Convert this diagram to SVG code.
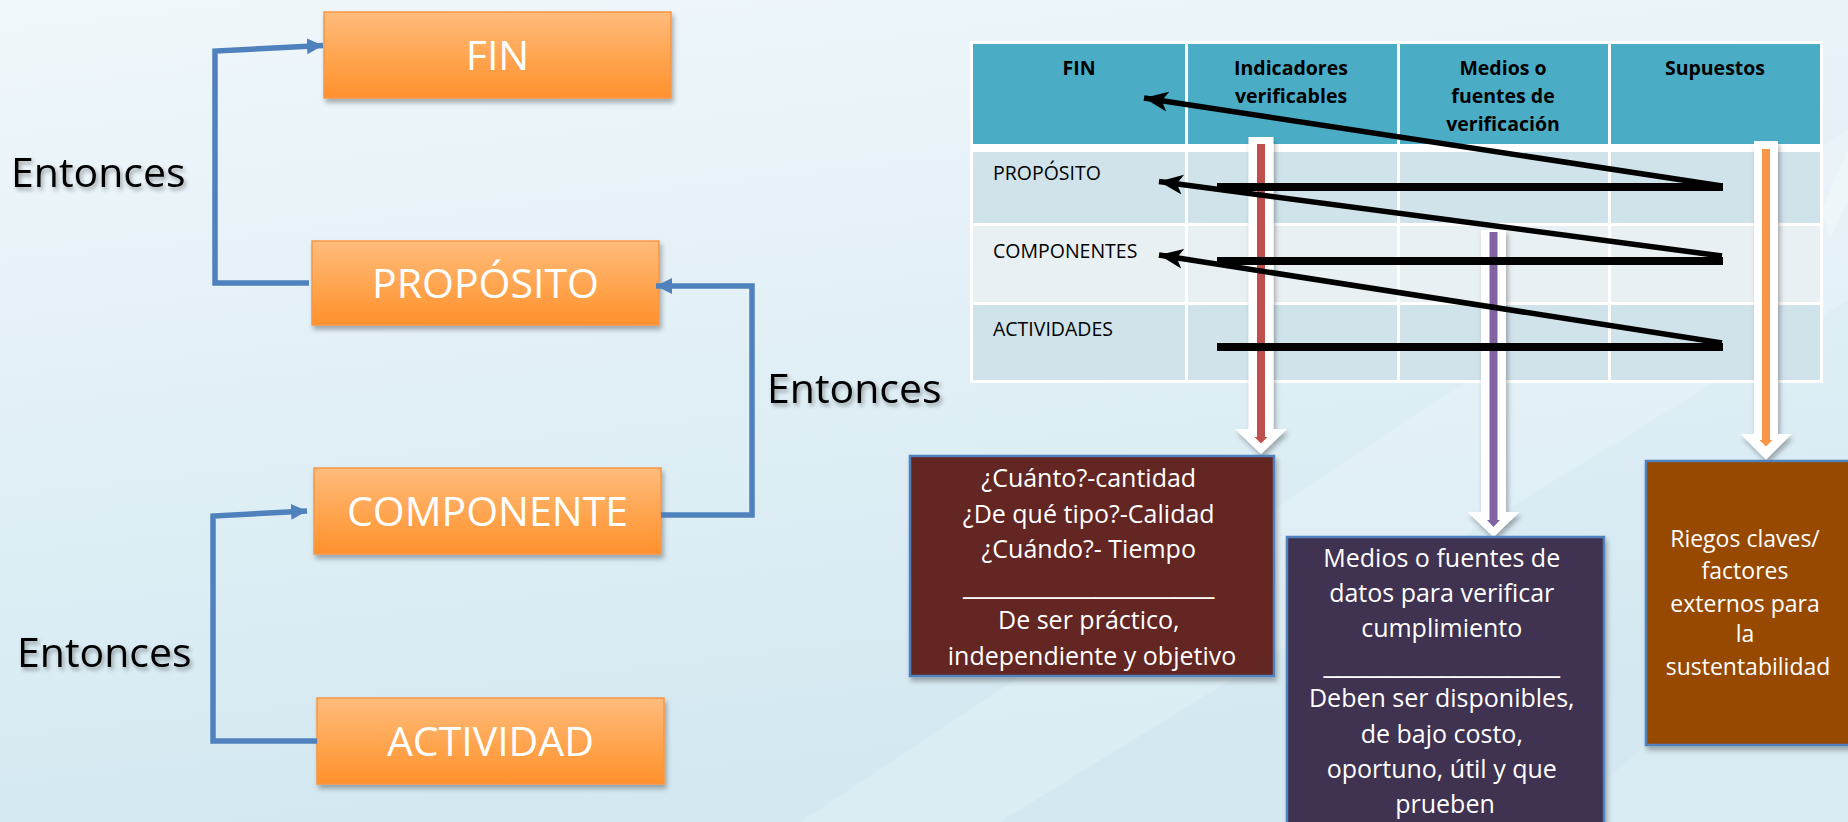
<svg xmlns="http://www.w3.org/2000/svg" width="1848" height="822" viewBox="0 0 1848 822">
<defs>
  <linearGradient id="bg" x1="0" y1="0" x2="0.25" y2="1">
    <stop offset="0" stop-color="#F0F7FB"/>
    <stop offset="1" stop-color="#D3E8F1"/>
  </linearGradient>
  <linearGradient id="og" x1="0" y1="0" x2="0" y2="1">
    <stop offset="0" stop-color="#FFBC7C"/>
    <stop offset="0.6" stop-color="#FFA24A"/>
    <stop offset="1" stop-color="#FF912C"/>
  </linearGradient>
  <filter id="sh" x="-10%" y="-10%" width="130%" height="140%">
    <feDropShadow dx="2" dy="4" stdDeviation="2.5" flood-color="#000" flood-opacity="0.3"/>
  </filter>
  <filter id="tsh" x="-10%" y="-10%" width="130%" height="140%">
    <feDropShadow dx="2" dy="3" stdDeviation="2" flood-color="#000" flood-opacity="0.35"/>
  </filter>
  <marker id="blueArrow" markerUnits="userSpaceOnUse" markerWidth="18" markerHeight="18" viewBox="0 0 18 18" refX="16" refY="9" orient="auto">
    <path d="M0,1 L16,9 L0,17 Z" fill="#4F81BD"/>
  </marker>
  <marker id="blackArrow" markerUnits="userSpaceOnUse" markerWidth="26" markerHeight="22" viewBox="0 0 26 22" refX="24" refY="11" orient="auto">
    <path d="M0,1 L24,11 L0,21 L6,11 Z" fill="#000"/>
  </marker>
  <style>
    .node rect { fill: url(#og); stroke: #F79646; stroke-width: 1.5; filter: url(#sh); }
    .node text { fill: #FFFFFF; font-family: "Open Sans", "Liberation Sans", sans-serif; font-size: 41px; text-anchor: middle; }
    .lbl { fill: #000; font-family: "Open Sans", "Liberation Sans", sans-serif; font-size: 41px; filter: url(#tsh); }
    .blue { fill: none; stroke: #4F81BD; stroke-width: 5.5; stroke-linejoin: miter; }
    .hdr { fill: #4BACC6; }
    .r1 { fill: #D0E3EA; }
    .r2 { fill: #E9F0F3; }
    .ht { fill: #000; font-family: "Open Sans", "Liberation Sans", sans-serif; font-weight: bold; font-size: 19.5px; text-anchor: middle; }
    .rt { fill: #000; font-family: "Open Sans", "Liberation Sans", sans-serif; font-size: 19.5px; }
    .bar { stroke: #000; stroke-width: 8; fill: none; }
    .slant { stroke: #000; stroke-width: 5.5; fill: none; }
    .box rect { stroke: #4F81BD; stroke-width: 2.5; filter: url(#sh); }
    .box text { fill: #FFFFFF; font-family: "Open Sans", "Liberation Sans", sans-serif; text-anchor: middle; }
    .box .us { font-family: "Liberation Sans", sans-serif; }
    .outer { fill: #FFFFFF; filter: url(#sh); }
  </style>
</defs>

<rect x="0" y="0" width="1848" height="822" fill="url(#bg)"/>
<polygon points="800,822 1848,130 1848,300 1000,822" fill="#FFFFFF" opacity="0.18"/>
<polygon points="1560,822 1848,560 1848,822" fill="#FFFFFF" opacity="0.12"/>
<polygon points="1822,210 1848,150 1848,200 1830,240" fill="#FFFFFF" opacity="0.3"/>

<!-- Left flow nodes -->
<g id="node-fin" class="node">
  <rect x="324" y="12" width="347" height="86"/>
  <text x="497.5" y="70">FIN</text>
</g>
<g id="node-proposito" class="node">
  <rect x="312" y="241" width="347" height="84"/>
  <text x="485.5" y="298">PROPÓSITO</text>
</g>
<g id="node-componente" class="node">
  <rect x="314" y="468" width="347" height="86"/>
  <text x="487.5" y="526">COMPONENTE</text>
</g>
<g id="node-actividad" class="node">
  <rect x="317" y="698" width="347" height="86"/>
  <text x="490.5" y="756">ACTIVIDAD</text>
</g>

<g id="connectors">
  <path class="blue" d="M309,283 L215,283 L215,51 L323,45.5" marker-end="url(#blueArrow)"/>
  <path class="blue" d="M317,741 L213,741 L213,516 L307,511" marker-end="url(#blueArrow)"/>
  <path class="blue" d="M661,515 L752,515 L752,286 L656,286" marker-end="url(#blueArrow)"/>
</g>

<g id="labels">
  <text class="lbl" x="11" y="187">Entonces</text>
  <text class="lbl" x="767" y="403">Entonces</text>
  <text class="lbl" x="17" y="667">Entonces</text>
</g>

<!-- Table -->
<g id="table">
  <rect x="970" y="41" width="853" height="342" fill="#FFFFFF"/>
  <rect class="hdr" x="973" y="44" width="212" height="100"/>
  <rect class="hdr" x="1188" y="44" width="209" height="100"/>
  <rect class="hdr" x="1400" y="44" width="208" height="100"/>
  <rect class="hdr" x="1611" y="44" width="209" height="100"/>

  <rect class="r1" x="973" y="152" width="212" height="71"/>
  <rect class="r1" x="1188" y="152" width="209" height="71"/>
  <rect class="r1" x="1400" y="152" width="208" height="71"/>
  <rect class="r1" x="1611" y="152" width="209" height="71"/>

  <rect class="r2" x="973" y="226" width="212" height="76"/>
  <rect class="r2" x="1188" y="226" width="209" height="76"/>
  <rect class="r2" x="1400" y="226" width="208" height="76"/>
  <rect class="r2" x="1611" y="226" width="209" height="76"/>

  <rect class="r1" x="973" y="305" width="212" height="75"/>
  <rect class="r1" x="1188" y="305" width="209" height="75"/>
  <rect class="r1" x="1400" y="305" width="208" height="75"/>
  <rect class="r1" x="1611" y="305" width="209" height="75"/>

  <text class="ht" x="1079" y="75">FIN</text>
  <text class="ht" x="1291" y="75">Indicadores</text>
  <text class="ht" x="1291" y="103">verificables</text>
  <text class="ht" x="1503" y="75">Medios o</text>
  <text class="ht" x="1503" y="103">fuentes de</text>
  <text class="ht" x="1503" y="131">verificación</text>
  <text class="ht" x="1715" y="75">Supuestos</text>

  <text class="rt" x="993" y="180">PROPÓSITO</text>
  <text class="rt" x="993" y="258">COMPONENTES</text>
  <text class="rt" x="993" y="336">ACTIVIDADES</text>
</g>

<!-- Colored vertical arrows -->
<g id="arrow-indicadores">
  <path class="outer" d="M1248.5,137 L1273.5,137 L1273.5,429 L1287,429 L1261,454 L1235,429 L1248.5,429 Z"/>
  <path d="M1257,144 L1265,144 L1265,437 L1267.5,437 L1261,443.5 L1254.5,437 L1257,437 Z" fill="#C0504D"/>
</g>
<g id="arrow-medios">
  <path class="outer" d="M1481,230 L1506,230 L1506,512 L1519.5,512 L1493.5,537 L1467.5,512 L1481,512 Z"/>
  <path d="M1489.5,232 L1497.5,232 L1497.5,520 L1500,520 L1493.5,527 L1487,520 L1489.5,520 Z" fill="#8064A2"/>
</g>
<g id="arrow-supuestos">
  <path class="outer" d="M1754,141 L1778,141 L1778,434 L1791.5,434 L1766,459.5 L1740.5,434 L1754,434 Z"/>
  <path d="M1762,149 L1770,149 L1770,440 L1772.5,440 L1766,446.5 L1759.5,440 L1762,440 Z" fill="#F79646"/>
</g>

<!-- Black arrows in table -->
<g id="table-connectors">
  <line class="bar" x1="1217" y1="187" x2="1723" y2="187"/>
  <line class="bar" x1="1217" y1="261" x2="1723" y2="261"/>
  <line class="bar" x1="1217" y1="347" x2="1723" y2="347"/>
  <line class="slant" x1="1722" y1="186" x2="1144" y2="98" marker-end="url(#blackArrow)"/>
  <line class="slant" x1="1722" y1="256" x2="1159" y2="181.5" marker-end="url(#blackArrow)"/>
  <line class="slant" x1="1722" y1="343" x2="1159" y2="255" marker-end="url(#blackArrow)"/>
</g>

<!-- Explanation boxes -->
<g id="box-indicadores" class="box">
  <rect x="910" y="456" width="364" height="220" fill="#632523"/>
  <text font-size="25px">
    <tspan x="1092" y="487">¿Cuánto?-cantidad</tspan>
    <tspan x="1092" y="523">¿De qué tipo?-Calidad</tspan>
    <tspan x="1092" y="558">¿Cuándo?- Tiempo</tspan>
    <tspan class="us" x="1092" y="594" textLength="251" lengthAdjust="spacingAndGlyphs">___________________</tspan>
    <tspan x="1092" y="629">De ser práctico,</tspan>
    <tspan x="1092" y="665">independiente y objetivo</tspan>
  </text>
</g>
<g id="box-medios" class="box">
  <rect x="1287" y="537" width="317" height="300" fill="#3F3151"/>
  <text font-size="25px">
    <tspan x="1445" y="567">Medios o fuentes de</tspan>
    <tspan x="1445" y="602">datos para verificar</tspan>
    <tspan x="1445" y="637">cumplimiento</tspan>
    <tspan class="us" x="1445" y="673" textLength="236" lengthAdjust="spacingAndGlyphs">__________________</tspan>
    <tspan x="1445" y="707">Deben ser disponibles,</tspan>
    <tspan x="1445" y="743">de bajo costo,</tspan>
    <tspan x="1445" y="778">oportuno, útil y que</tspan>
    <tspan x="1445" y="813">prueben</tspan>
  </text>
</g>
<g id="box-supuestos" class="box">
  <rect x="1646" y="461" width="210" height="284" fill="#974806"/>
  <text font-size="23px">
    <tspan x="1748" y="547">Riegos claves/</tspan>
    <tspan x="1748" y="579">factores</tspan>
    <tspan x="1748" y="612">externos para</tspan>
    <tspan x="1748" y="642">la</tspan>
    <tspan x="1748" y="675">sustentabilidad</tspan>
  </text>
</g>
</svg>
